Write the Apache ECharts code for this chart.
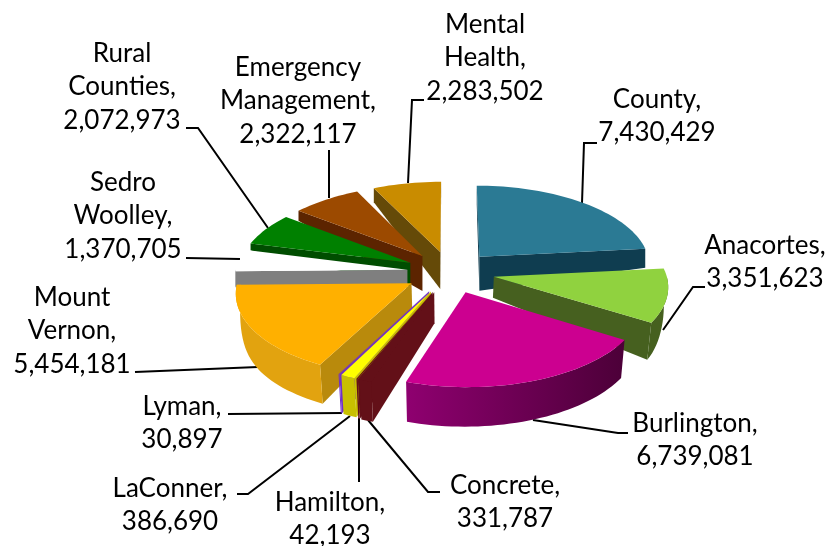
<!DOCTYPE html>
<html><head><meta charset="utf-8">
<style>html,body{margin:0;padding:0;background:#fff}#c{width:834px;height:546px}</style>
<script src="https://cdn.jsdelivr.net/npm/echarts@6/dist/echarts.min.js"></script>
</head><body><div id="c"></div>
<script>
const categories = ['County','Anacortes','Burlington','Concrete','Hamilton','LaConner','Lyman','Mount Vernon','Sedro Woolley','Rural Counties','Emergency Management','Mental Health'];
const values = [7430429,3351623,6739081,331787,42193,386690,30897,5454181,1370705,2072973,2322117,2283502];
const labelLines = [['County,'],['Anacortes,'],['Burlington,'],['Concrete,'],['Hamilton,'],['LaConner,'],['Lyman,'],['Mount','Vernon,'],['Sedro','Woolley,'],['Rural','Counties,'],['Emergency','Management,'],['Mental','Health,']];

// styling and layout, separate from the data
const topColors = ['#2b7a94','#90d23f','#cc0090','#631018','#631018','#ffff00','#7030c8','#ffb000','#ffffff','#008000','#9c4a00','#c98c00'];
const wallColors = ['#0f3d50','#46601f',['#8f0070','#4c0038'],'#631018','#631018','#c8c000','#7030c8','#e2a30f','#7f7f7f','#004d00','#5c2400','#b5860a'];
const faceColors = ['#0f3d50','#46601f','#4c0038','#631018','#631018','#c8c000','#7030c8','#b98a0c','#7f7f7f','#004d00','#5c2400','#654a08'];
// extrusion height at the slice's apex, first arc end, last arc end, and taper exponent
const extrusion = [[34,19,19,1],[21,0,37,1.5],[30,38,40,1],[31,40,40,1],[31,40,40,1],[31,39,39,1],[31,39,39,1],[29,39,0,5],[18,16,16,1],[24,7,7,1],[35,10,10,1],[37,14,14,1]];
const explodeAmount = [.26,.26,.26,.26,.26,.26,.26,.26,.25,.26,.26,.26];
const labelCentre = [[657,82.5],[765,228.5],[695,406.5],[505,468.5],[330,485.5],[170,471.5],[182,389.5],[72,280.5],[123,165.5],[122,36.5],[298,50.5],[485,7.5]];
const leaders = [
 [[582,203],[584,143],[597,143]],
 [[663,330],[693,287],[705,287]],
 [[533,420],[618,433],[628,433]],
 [[368,420],[428,492],[440,492]],
 [[359,418],[359,482]],
 [[350,416],[248,494],[237,494]],
 [[342,413],[228,414]],
 [[258,367],[135,372]],
 [[240,259],[186,258]],
 [[268,228],[198,128],[186,128]],
 [[329,198],[329,150]],
 [[408,183],[412,100],[424,100]]
];
const view = {cx:450, cy:272, rx:172, ry:81, persp:0.1, lean:0.02};

const total = values.reduce((a,b)=>a+b,0);
const fmt = v => String(v).replace(/\B(?=(\d{3})+$)/g, ',');
let acc = 0;
const slices = values.map((v,i)=>{ const a0 = acc/total*Math.PI*2; acc += v; const a1 = acc/total*Math.PI*2; return {i,a0,a1,mid:(a0+a1)/2}; });
const order = slices.slice().sort((p,q)=>(-Math.cos(p.mid))-(-Math.cos(q.mid)) || p.i-q.i).map(s=>s.i);

function project(s, r, t){
  const e = explodeAmount[s.i];
  const u = r*Math.sin(t) + e*Math.sin(s.mid);
  const w = -r*Math.cos(t) - e*Math.cos(s.mid);
  const k = 1/(1 - view.persp*w);
  return [view.cx + view.rx*u*k, view.cy + view.ry*w*k, w];
}
function lower(s, r, t){
  const p = project(s,r,t), ex = extrusion[s.i];
  let h = ex[0];
  if(r!==0){
    const f = (t-s.a0)/(s.a1-s.a0);
    if(ex[2]===0) h = ex[1]*(1-Math.pow(f,ex[3]));
    else if(ex[1]===0) h = ex[2]*(1-Math.pow(1-f,ex[3]));
    else h = ex[1]+(ex[2]-ex[1])*f;
  }
  const dx = p[2]>0 ? (view.cx-p[0])*view.lean : 0;
  return [p[0]+dx, p[1]+h];
}
function arc(s, a, b, low){
  const n = Math.max(2, Math.ceil((b-a)/(Math.PI/90))), pts=[];
  for(let j=0;j<=n;j++){ const t=a+(b-a)*j/n; pts.push(low ? lower(s,1,t) : project(s,1,t).slice(0,2)); }
  return pts;
}
function paint(c){
  if(Array.isArray(c)) return {type:'linear',x:0,y:0,x2:1,y2:0,colorStops:[{offset:0,color:c[0]},{offset:1,color:c[1]}]};
  return c;
}
function renderSlice(params){
  const s = slices[order[params.dataIndex]], kids=[];
  const A = project(s,0,0).slice(0,2), M = project(s,1,s.mid);
  [s.a0,s.a1].forEach(t=>{
    const P = project(s,1,t).slice(0,2);
    const side = (P[0]-A[0])*(M[1]-A[1])-(P[1]-A[1])*(M[0]-A[0]);
    const down = (P[0]-A[0]);
    if(side*down<0){
      kids.push({type:'polygon',shape:{points:[A,P,lower(s,1,t),lower(s,0,0)]},style:{fill:faceColors[s.i]}});
    }
  });
  const wa = Math.max(s.a0,Math.PI/2), wb = Math.min(s.a1,Math.PI*1.5);
  if(wb>wa){
    kids.push({type:'polygon',shape:{points:arc(s,wa,wb,false).concat(arc(s,wa,wb,true).reverse())},style:{fill:paint(wallColors[s.i])}});
  }
  kids.push({type:'polygon',shape:{points:[A].concat(arc(s,s.a0,s.a1,false))},style:{fill:topColors[s.i]}});
  return {type:'group',children:kids};
}
function renderLabel(params){
  const i = params.dataIndex;
  return {type:'group',children:[
    {type:'polyline',shape:{points:leaders[i]},style:{stroke:'#000',lineWidth:2,fill:null}},
    {type:'text',x:labelCentre[i][0],y:labelCentre[i][1],style:{
      text:labelLines[i].concat(fmt(values[i])).join('\n'),
      fill:'#000',font:'26px Lato',lineHeight:33.5,align:'center',verticalAlign:'top'}}
  ]};
}
const chart = echarts.init(document.getElementById('c'),null,{renderer:'canvas'});
chart.setOption({
  animation:false,
  backgroundColor:'#fff',
  series:[
   {type:'custom',coordinateSystem:'none',silent:true,z:1,renderItem:renderLabel,
    data:categories.map((n,i)=>({name:n,value:[i,values[i]]}))},
   {type:'custom',coordinateSystem:'none',silent:true,z:2,renderItem:renderSlice,
    data:order.map(i=>({name:categories[i],value:[i,values[i]]}))}
  ]
});
</script></body></html>
